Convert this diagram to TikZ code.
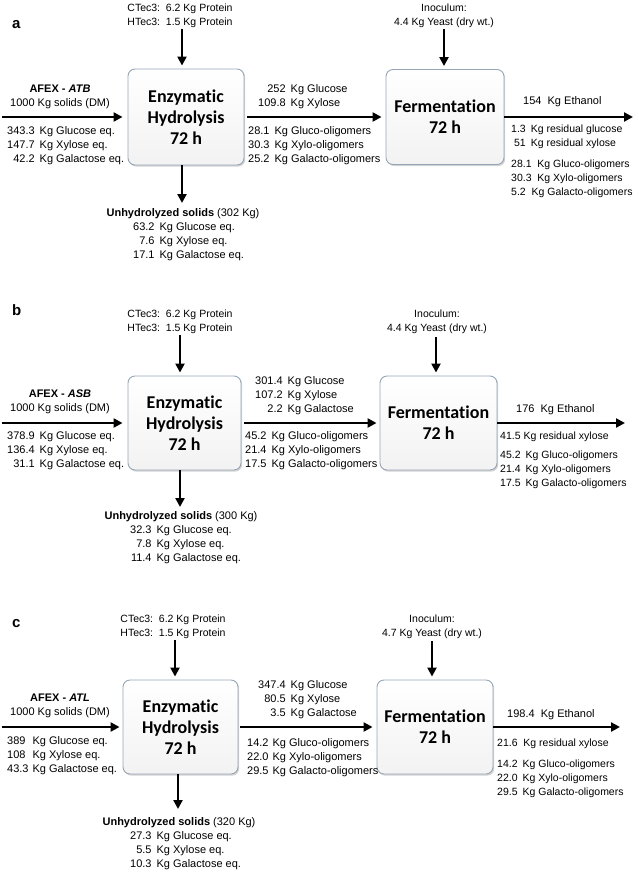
\documentclass[tikz,border=0pt]{standalone}
\usepackage{fontspec}
\setmainfont{Liberation Sans}
\newfontfamily\boxfont[Ligatures={NoCommon}]{Carlito}
\usetikzlibrary{arrows.meta,shadows}
\definecolor{boxedge}{RGB}{150,166,182}
\tikzset{
	flow/.style={line width=2.6pt, -{Triangle[length=9pt,width=9pt]}},
	stage/.style={draw=boxedge, line width=0.9pt, rounded corners=7pt, top color=white, bottom color=gray!10, align=center, inner sep=0pt,
		font=\boxfont\bfseries\fontsize{18}{21}\selectfont, drop shadow={shadow xshift=1.2pt, shadow yshift=-1.6pt, opacity=0.35}},
	lbl/.style={inner sep=0pt, font=\fontsize{11}{14}\selectfont},
	lbls/.style={inner sep=0pt, font=\fontsize{10.5}{14}\selectfont},
	tag/.style={inner sep=0pt, font=\fontsize{15}{15}\selectfont\bfseries},
}
\def\kgtab#1{\begin{tabular}[t]{@{}r@{\hspace{5pt}}l@{}}#1\end{tabular}}
\def\lltab#1{\begin{tabular}[t]{@{}l@{\hspace{4pt}}l@{}}#1\end{tabular}}
\def\ctab#1{\begin{tabular}[t]{@{}c@{}}#1\end{tabular}}
\def\ltab#1{\begin{tabular}[t]{@{}l@{}}#1\end{tabular}}

\begin{document}
\begin{tikzpicture}[x=1pt, y=-1pt]
		%%%%% START %%%%%
		\useasboundingbox (0,0) rectangle (638,873);
		
		%%%%% panel a %%%%%
		\node[stage, minimum width=116pt, minimum height=96pt] (a-enz) at (186,117) {Enzymatic\\Hydrolysis\\72 h};
		\node[stage, minimum width=118pt, minimum height=95pt] (a-ferm) at (445,117) {Fermentation\\72 h};
		
		\coordinate (a-feed) at (2,117);
		\coordinate (a-out) at (633,117);
		\coordinate (a-enzym) at (182,29);
		\coordinate (a-solid) at (182,203);
		\coordinate (a-yeast) at (444,29);
		
		\draw[flow, shorten >=5pt] (a-feed) -- (a-feed -| a-enz.west);
		\draw[flow, shorten <=3pt, shorten >=4pt] (a-enz.east) -- (a-ferm.west);
		\draw[flow] (a-ferm.east) -- (a-out);
		\draw[flow, shorten >=3pt] (a-enzym) -- (a-enzym |- a-enz.north);
		\draw[flow] (a-solid |- a-enz.south) -- (a-solid);
		\draw[flow, shorten >=3pt] (a-yeast) -- (a-yeast |- a-ferm.north);
		
		\node[tag, anchor=base west] (a-tag) at (12,28) {a};
		\node[lbls, anchor=base] (a-enzym-txt) at (180,11) {\ctab{CTec3:\ \ 6.2 Kg Protein\\HTec3:\ \ 1.5 Kg Protein}};
		\node[lbls, anchor=base] (a-yeast-txt) at (444,11) {\ctab{Inoculum:\\4.4 Kg Yeast (dry wt.)}};
		\node[lbl, anchor=base] (a-feed-txt) at (60,92) {\ctab{\textbf{AFEX - \textit{ATB}}\\1000 Kg solids (DM)}};
		\node[lbl, anchor=base west] (a-feed-sug) at (7,134) {\kgtab{343.3 & Kg Glucose eq.\\147.7 & Kg Xylose eq.\\42.2 & Kg Galactose eq.}};
		\node[lbl, anchor=base] (a-solid-txt) at (183,216) {\textbf{Unhydrolyzed solids} (302 Kg)};
		\node[lbl, anchor=base west] (a-solid-sug) at (133,230) {\kgtab{63.2 & Kg Glucose eq.\\7.6 & Kg Xylose eq.\\17.1 & Kg Galactose eq.}};
		\node[lbl, anchor=base west] (a-hyd-mono) at (258,92) {\kgtab{252 & Kg Glucose\\109.8 & Kg Xylose}};
		\node[lbl, anchor=base west] (a-hyd-olig) at (248,134) {\kgtab{28.1 & Kg Gluco-oligomers\\30.3 & Kg Xylo-oligomers\\25.2 & Kg Galacto-oligomers}};
		\node[lbl, anchor=base west] (a-etoh) at (523,104) {154\ \ Kg Ethanol};
		\node[lbls, anchor=base west] (a-resid) at (511,132) {\kgtab{1.3 & Kg residual glucose\\51 & Kg residual xylose}};
		\node[lbls, anchor=base west] (a-ferm-olig) at (511,167) {\ltab{28.1\ \ Kg Gluco-oligomers\\30.3\ \ Kg Xylo-oligomers\\5.2\ \ Kg Galacto-oligomers}};
		
		%%%%% panel b %%%%%
		\node[stage, minimum width=113pt, minimum height=94pt] (b-enz) at (184.5,423) {Enzymatic\\Hydrolysis\\72 h};
		\node[stage, minimum width=117pt, minimum height=94pt] (b-ferm) at (438.5,423) {Fermentation\\72 h};
		
		\coordinate (b-feed) at (2,423);
		\coordinate (b-out) at (625,423);
		\coordinate (b-enzym) at (180,335);
		\coordinate (b-solid) at (180,507);
		\coordinate (b-yeast) at (436,337);
		
		\draw[flow, shorten >=5pt] (b-feed) -- (b-feed -| b-enz.west);
		\draw[flow, shorten <=3pt, shorten >=3pt] (b-enz.east) -- (b-ferm.west);
		\draw[flow] (b-ferm.east) -- (b-out);
		\draw[flow, shorten >=3pt] (b-enzym) -- (b-enzym |- b-enz.north);
		\draw[flow] (b-solid |- b-enz.south) -- (b-solid);
		\draw[flow, shorten >=3pt] (b-yeast) -- (b-yeast |- b-ferm.north);
		
		\node[tag, anchor=base west] (b-tag) at (12,315) {b};
		\node[lbls, anchor=base] (b-enzym-txt) at (180,317) {\ctab{CTec3:\ \ 6.2 Kg Protein\\HTec3:\ \ 1.5 Kg Protein}};
		\node[lbls, anchor=base] (b-yeast-txt) at (437,317) {\ctab{Inoculum:\\4.4 Kg Yeast (dry wt.)}};
		\node[lbl, anchor=base] (b-feed-txt) at (60,397) {\ctab{\textbf{AFEX - \textit{ASB}}\\1000 Kg solids (DM)}};
		\node[lbl, anchor=base west] (b-feed-sug) at (7,439) {\kgtab{378.9 & Kg Glucose eq.\\136.4 & Kg Xylose eq.\\31.1 & Kg Galactose eq.}};
		\node[lbl, anchor=base] (b-solid-txt) at (181,519) {\textbf{Unhydrolyzed solids} (300 Kg)};
		\node[lbl, anchor=base west] (b-solid-sug) at (130,533) {\kgtab{32.3 & Kg Glucose eq.\\7.8 & Kg Xylose eq.\\11.4 & Kg Galactose eq.}};
		\node[lbl, anchor=base west] (b-hyd-mono) at (255,384) {\kgtab{301.4 & Kg Glucose\\107.2 & Kg Xylose\\2.2 & Kg Galactose}};
		\node[lbl, anchor=base west] (b-hyd-olig) at (245,439) {\kgtab{45.2 & Kg Gluco-oligomers\\21.4 & Kg Xylo-oligomers\\17.5 & Kg Galacto-oligomers}};
		\node[lbl, anchor=base west] (b-etoh) at (516,412) {176\ \ Kg Ethanol};
		\node[lbls, anchor=base west] (b-resid) at (500,439) {41.5 Kg residual xylose};
		\node[lbls, anchor=base west] (b-ferm-olig) at (500,458) {\kgtab{45.2 & Kg Gluco-oligomers\\21.4 & Kg Xylo-oligomers\\17.5 & Kg Galacto-oligomers}};
		
		%%%%% panel c %%%%%
		\node[stage, minimum width=115pt, minimum height=94pt] (c-enz) at (180.5,727) {Enzymatic\\Hydrolysis\\72 h};
		\node[stage, minimum width=116pt, minimum height=94pt] (c-ferm) at (435,727) {Fermentation\\72 h};
		
		\coordinate (c-feed) at (2,727);
		\coordinate (c-out) at (620,727);
		\coordinate (c-enzym) at (175,640);
		\coordinate (c-solid) at (178,809);
		\coordinate (c-yeast) at (432,641);
		
		\draw[flow, shorten >=3pt] (c-feed) -- (c-feed -| c-enz.west);
		\draw[flow, shorten <=2pt, shorten >=4pt] (c-enz.east) -- (c-ferm.west);
		\draw[flow] (c-ferm.east) -- (c-out);
		\draw[flow, shorten >=3pt] (c-enzym) -- (c-enzym |- c-enz.north);
		\draw[flow] (c-solid |- c-enz.south) -- (c-solid);
		\draw[flow, shorten >=3pt] (c-yeast) -- (c-yeast |- c-ferm.north);
		
		\node[tag, anchor=base west] (c-tag) at (12,627) {c};
		\node[lbls, anchor=base] (c-enzym-txt) at (173,622) {\ctab{CTec3:\ \ 6.2 Kg Protein\\HTec3:\ \ 1.5 Kg Protein}};
		\node[lbls, anchor=base] (c-yeast-txt) at (432,622) {\ctab{Inoculum:\\4.7 Kg Yeast (dry wt.)}};
		\node[lbl, anchor=base] (c-feed-txt) at (60,701) {\ctab{\textbf{AFEX - \textit{ATL}}\\1000 Kg solids (DM)}};
		\node[lbl, anchor=base west] (c-feed-sug) at (7,744) {\lltab{389 & Kg Glucose eq.\\108 & Kg Xylose eq.\\43.3 & Kg Galactose eq.}};
		\node[lbl, anchor=base] (c-solid-txt) at (179,825) {\textbf{Unhydrolyzed solids} (320 Kg)};
		\node[lbl, anchor=base west] (c-solid-sug) at (130,839) {\kgtab{27.3 & Kg Glucose eq.\\5.5 & Kg Xylose eq.\\10.3 & Kg Galactose eq.}};
		\node[lbl, anchor=base west] (c-hyd-mono) at (258,688) {\kgtab{347.4 & Kg Glucose\\80.5 & Kg Xylose\\3.5 & Kg Galactose}};
		\node[lbl, anchor=base west] (c-hyd-olig) at (247,746) {\lltab{14.2 & Kg Gluco-oligomers\\22.0 & Kg Xylo-oligomers\\29.5 & Kg Galacto-oligomers}};
		\node[lbl, anchor=base west] (c-etoh) at (507,717) {198.4\ \ Kg Ethanol};
		\node[lbls, anchor=base west] (c-resid) at (497,746) {21.6\ \ Kg residual xylose};
		\node[lbls, anchor=base west] (c-ferm-olig) at (497,767) {\kgtab{14.2 & Kg Gluco-oligomers\\22.0 & Kg Xylo-oligomers\\29.5 & Kg Galacto-oligomers}};
		
		%%%%% END %%%%%
\end{tikzpicture}
\end{document}
